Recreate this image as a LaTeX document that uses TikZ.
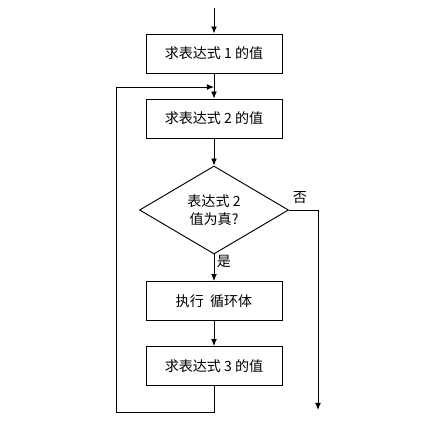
\documentclass[tikz,border=0pt]{standalone}
\usepackage{fontspec}
\newfontfamily\cjk{Noto Sans CJK SC}
\usetikzlibrary{shapes.geometric, arrows.meta}
\tikzset{
	>={Latex[length=6pt, width=5pt]},
	stepbox/.style={draw, thick, minimum width=4.08cm, minimum height=1.17cm, inner sep=0pt, font=\cjk\fontsize{12}{14}\selectfont},
	testbox/.style={draw, thick, diamond, aspect=1.69, minimum width=4.47cm, minimum height=2.64cm, inner sep=0pt, align=center, font=\cjk\fontsize{12}{15}\selectfont},
	lbl/.style={font=\cjk\fontsize{12}{14}\selectfont, inner sep=0pt}
}
\begin{document}
\begin{tikzpicture}[x=0.03cm, y=-0.03cm, line width=0.6pt]
			\useasboundingbox (0,0) rectangle (428,420);
			\coordinate (start) at (214,8);
			\node[stepbox] (e1) at (214,53.5){求表达式 1 的值};
			\node[stepbox] (e2) at (214,118.5){求表达式 2 的值};
			\node[testbox] (test) at (214,210){表达式 2\\值为真?};
			\node[stepbox] (body) at (214,301){执行\ \ 循环体};
			\node[stepbox] (e3) at (214,366){求表达式 3 的值};
			\coordinate (join) at (214,87);
			\coordinate (out) at (318,410);
			\draw[->, thick] (start)--(e1.north);
			\draw[->, thick] (e1.south)--(e2.north);
			\draw[->, thick] (e2.south)--(test.north);
			\draw[->, thick] (test.south)--(body.north) node [near start, right, lbl, xshift=2pt] {是};
			\draw[->, thick] (body.south)--(e3.north);
			\draw[->, thick] (e3.south)--++(0,26)-|(116,87)--(join);
			\draw[->, thick] (test.east)-|(out);
			\node[lbl] (no) at (300,198){否};
		\end{tikzpicture}
\end{document}
